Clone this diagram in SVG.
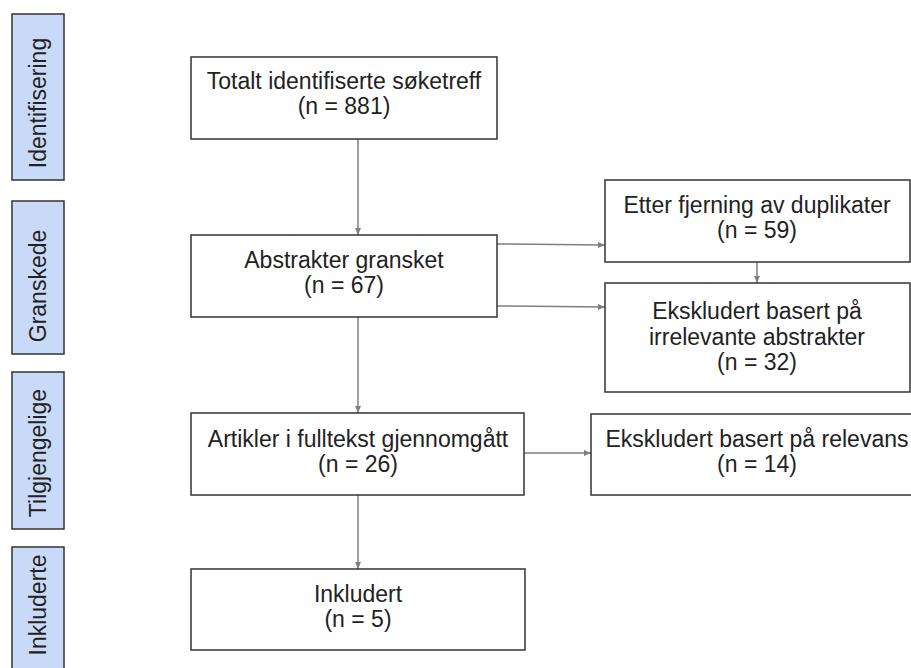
<svg xmlns="http://www.w3.org/2000/svg" width="911" height="668" viewBox="0 0 911 668">
<style>
.side{fill:#c9daf8;stroke:#333;stroke-width:1.5}
.box{fill:#fff;stroke:#333;stroke-width:1.5}
text{font-family:"Liberation Sans",Arial,sans-serif;font-size:23px;fill:#222}
.c{text-anchor:middle}
.conn{stroke:#7f7f7f;stroke-width:1.5;fill:none;marker-end:url(#ah)}
</style>
<defs>
<marker id="ah" markerUnits="userSpaceOnUse" markerWidth="8" markerHeight="8" refX="7" refY="4" orient="auto">
<path d="M0,1 L7,4 L0,7 Z" fill="#7f7f7f"/>
</marker>
</defs>
<g id="connectors">
<line class="conn" x1="358" y1="139" x2="358" y2="235"/>
<line class="conn" x1="358" y1="317" x2="358" y2="413"/>
<line class="conn" x1="358" y1="495" x2="358" y2="569"/>
<line class="conn" x1="497" y1="244" x2="605" y2="245"/>
<line class="conn" x1="497" y1="306" x2="605" y2="307"/>
<line class="conn" x1="757" y1="262" x2="757" y2="283"/>
<line class="conn" x1="524" y1="453" x2="591" y2="453"/>
</g>
<g id="lbl-identifisering">
<rect class="side" x="12" y="14" width="52" height="166"/>
<text class="c" transform="translate(46,103) rotate(-90)">Identifisering</text>
</g>
<g id="lbl-granskede">
<rect class="side" x="12" y="201" width="52" height="153"/>
<text class="c" transform="translate(46,286) rotate(-90)">Granskede</text>
</g>
<g id="lbl-tilgjengelige">
<rect class="side" x="12" y="372" width="52" height="157"/>
<text class="c" transform="translate(46,453) rotate(-90)">Tilgjengelige</text>
</g>
<g id="lbl-inkluderte">
<rect class="side" x="12" y="547" width="52" height="140"/>
<text class="c" transform="translate(46,605) rotate(-90)">Inkluderte</text>
</g>
<g id="n-total">
<rect class="box" x="191" y="57" width="306" height="82"/>
<text class="c" x="344" y="89">Totalt identifiserte søketreff</text>
<text class="c" x="344" y="114">(n = 881)</text>
</g>
<g id="n-abstrakter">
<rect class="box" x="191" y="235" width="306" height="82"/>
<text class="c" x="344" y="268">Abstrakter gransket</text>
<text class="c" x="344" y="293">(n = 67)</text>
</g>
<g id="n-etter">
<rect class="box" x="605" y="180" width="305" height="82"/>
<text class="c" x="757" y="213">Etter fjerning av duplikater</text>
<text class="c" x="757" y="238">(n = 59)</text>
</g>
<g id="n-eksk-abs">
<rect class="box" x="605" y="283" width="305" height="109"/>
<text class="c" x="757" y="319">Ekskludert basert på</text>
<text class="c" x="757" y="345">irrelevante abstrakter</text>
<text class="c" x="757" y="370">(n = 32)</text>
</g>
<g id="n-artikler">
<rect class="box" x="191" y="413" width="333" height="82"/>
<text class="c" x="358" y="447">Artikler i fulltekst gjennomgått</text>
<text class="c" x="358" y="472">(n = 26)</text>
</g>
<g id="n-eksk-rel">
<rect class="box" x="591" y="414" width="340" height="81"/>
<text class="c" x="757" y="447">Ekskludert basert på relevans</text>
<text class="c" x="757" y="472">(n = 14)</text>
</g>
<g id="n-inkludert">
<rect class="box" x="191" y="569" width="334" height="81"/>
<text class="c" x="358" y="602">Inkludert</text>
<text class="c" x="358" y="627">(n = 5)</text>
</g>
</svg>
